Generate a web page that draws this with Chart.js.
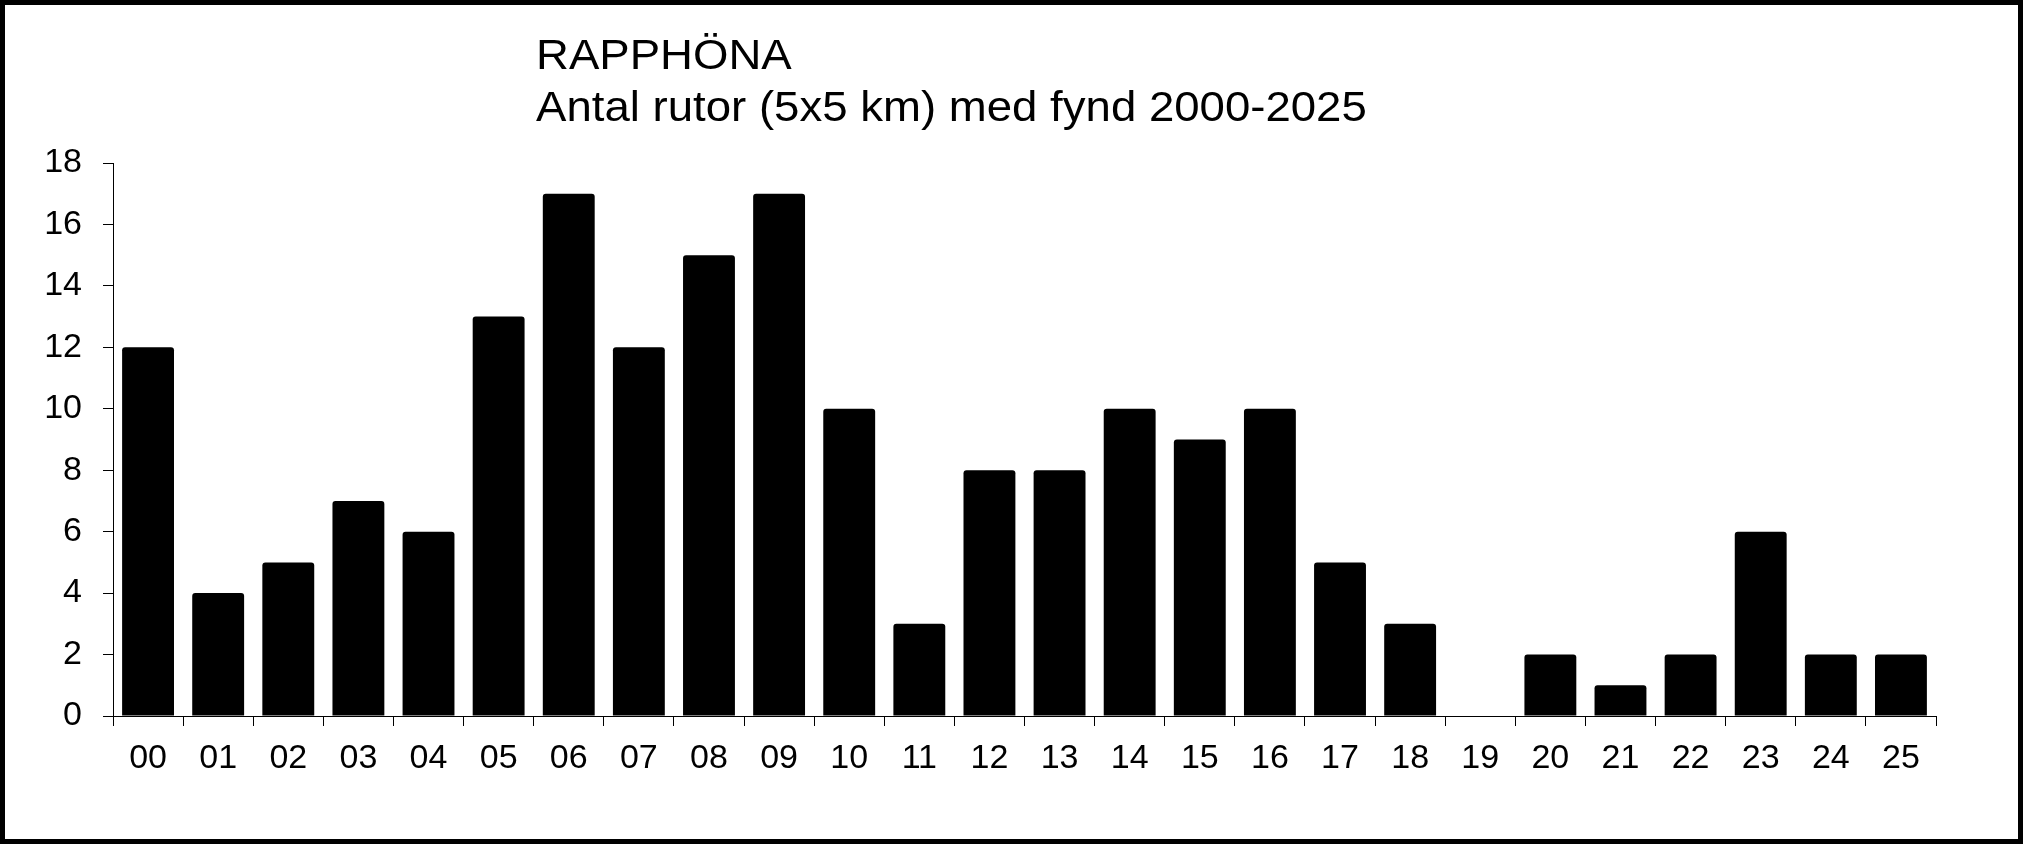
<!DOCTYPE html>
<html>
<head>
<meta charset="utf-8">
<script src="https://cdn.jsdelivr.net/npm/chart.js@4"></script>
<style>
  body { margin: 0; background: #fff; }
  #frame {
    position: relative;
    width: 2023px;
    height: 844px;
    box-sizing: border-box;
    border: 5px solid #000;
    background: #fff;
  }
  #title {
    position: absolute;
    left: 531px;
    top: 24px;
    font-family: "Liberation Sans", Arial, sans-serif;
    font-size: 42px;
    line-height: 52px;
    color: #000;
    white-space: nowrap;
    transform: scaleX(1.085);
    transform-origin: left top;
  }
  canvas { display: block; }
</style>
</head>
<body>
<div id="frame">
  <div id="title">RAPPHÖNA<br>Antal rutor (5x5 km) med fynd 2000-2025</div>
  <canvas id="chart" width="2013" height="834"></canvas>
</div>
<script>
// years 2000-2025, shown as two digits
const years = ['00', '01', '02', '03', '04', '05', '06', '07', '08', '09', '10', '11', '12',
               '13', '14', '15', '16', '17', '18', '19', '20', '21', '22', '23', '24', '25'];
const squares = [12, 4, 5, 7, 6, 13, 17, 12, 15, 17, 10, 3, 8, 8, 10, 9, 10, 5, 3, 0, 2, 1, 2, 6, 2, 2];
const yMin = 0;
const yMax = 18;
const yStep = 2;

const axisFont = { family: 'Liberation Sans, Arial, sans-serif', size: 34 };

const ctx = document.getElementById('chart').getContext('2d');
new Chart(ctx, {
    type: 'bar',
    data: {
        labels: years,
        datasets: [{
            data: squares,
            backgroundColor: '#000',
            borderWidth: 0,
            borderRadius: 3,
            categoryPercentage: 1,
            barPercentage: 0.74
        }]
    },
    options: {
        responsive: false,
        animation: false,
        layout: {
            padding: { left: 0, right: 82, top: 158, bottom: 0 }
        },
        plugins: {
            legend: { display: false },
            tooltip: { enabled: false },
            title: { display: false }
        },
        scales: {
            x: {
                offset: true,
                grid: {
                    offset: true,
                    drawOnChartArea: false,
                    drawTicks: true,
                    tickLength: 10,
                    color: '#000',
                    lineWidth: 1
                },
                border: { display: true, color: '#000', width: 1 },
                ticks: {
                    color: '#000',
                    font: axisFont,
                    padding: 12,
                    maxRotation: 0,
                    autoSkip: false
                },
                afterFit: (scale) => { scale.height = 123; }
            },
            y: {
                min: yMin,
                max: yMax,
                grid: {
                    drawOnChartArea: false,
                    drawTicks: true,
                    tickLength: 10,
                    color: '#000',
                    lineWidth: 1
                },
                border: { display: true, color: '#000', width: 1 },
                ticks: {
                    stepSize: yStep,
                    color: '#000',
                    font: axisFont,
                    padding: 21
                },
                afterFit: (scale) => { scale.width = 108; }
            }
        }
    }
});
</script>
</body>
</html>
